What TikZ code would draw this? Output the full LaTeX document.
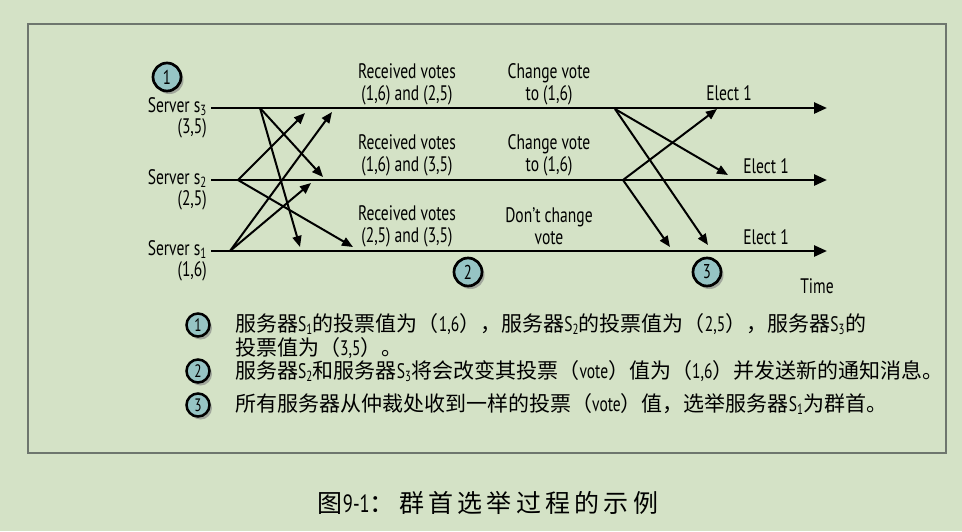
\documentclass[tikz,border=0pt]{standalone}
\usepackage{fontspec}
\setmainfont{PT Sans}[FakeStretch=0.74]
\newfontfamily\cjk{Noto Sans CJK SC}
\newfontfamily\capfont{Noto Sans CJK SC}[LetterSpace=17]
\usetikzlibrary{arrows.meta,shadows}
\definecolor{bgcol}{RGB}{212,226,198}
\definecolor{numfill}{RGB}{150,196,196}
\definecolor{framecol}{RGB}{110,118,110}
\newcommand\Sn[1]{{\rmfamily S\textsubscript{#1}}}
\newcommand\lat[1]{{\rmfamily #1}}

\tikzset{
  num/.style={circle,draw,line width=2.7pt,fill=numfill,minimum size=28pt,inner sep=0pt,
    font=\fontsize{20}{20}\selectfont,
    drop shadow={shadow xshift=2.5pt,shadow yshift=-3pt,opacity=.6}},
  smallnum/.style={num,minimum size=23pt,line width=2.5pt,font=\fontsize{18}{18}\selectfont},
  srvline/.style={line width=2.6pt,-{Triangle[length=13pt,width=11pt]}},
  msg/.style={line width=2pt,-{Triangle[length=11pt,width=9pt]}},
  lbl/.style={align=center,inner sep=0pt,font=\fontsize{21}{22}\selectfont},
  legend/.style={anchor=west,inner sep=0pt,text height=15pt,text depth=2pt,
    font=\cjk\fontsize{21}{21}\selectfont},
}

\begin{document}
\begin{tikzpicture}[x=1pt,y=-1pt]
    \fill[bgcol] (0,0) rectangle (962,531);
    \useasboundingbox (0,0) rectangle (962,531);
    \draw[framecol,line width=1.2pt] (28,24) rectangle (946,453);

    % server time lines
    \foreach \i/\yy/\v in {3/108/{3,5},2/180/{2,5},1/251/{1,6}} {
        \coordinate (s\i) at (211,\yy);
        \coordinate (e\i) at (827,\yy);
        \draw[srvline] (s\i) -- (e\i);
        \node[lbl,align=right,anchor=east,font=\fontsize{21}{21}\selectfont] (lab\i) at (207,\yy+10) {Server s\textsubscript{\i}\\(\v)};
    }

    % send and receive points
    \foreach \n/\p in {p3/{260,108},p2/{238,180},p1/{230,251},
                       t32/{323,177},t31/{300,247},t23/{305,113},t21/{353,247},t13/{332,112},t12/{311,183},
                       q3/{615,109},q2/{623,180},
                       u32/{728,175},u31/{708,245},u23/{717,109},u21/{670,247}} {
        \coordinate (\n) at (\p);
    }

    % first round of votes
    \draw[msg] (p3) -- (t32);
    \draw[msg] (p3) -- (t31);
    \draw[msg] (p2) -- (t23);
    \draw[msg] (p2) -- (t21);
    \draw[msg] (p1) -- (t13);
    \draw[msg] (p1) -- (t12);

    % second round
    \draw[msg] (q3) -- (u32);
    \draw[msg] (q3) -- (u31);
    \draw[msg] (q2) -- (u23);
    \draw[msg] (q2) -- (u21);

    \node[lbl] (rv3) at (407,84) {Received votes\\(1,6) and (2,5)};
    \node[lbl] (rv2) at (407,155) {Received votes\\(1,6) and (3,5)};
    \node[lbl] (rv1) at (407,226) {Received votes\\(2,5) and (3,5)};
    \node[lbl] (cv3) at (549,84) {Change vote\\to (1,6)};
    \node[lbl] (cv2) at (549,155) {Change vote\\to (1,6)};
    \node[lbl] (cv1) at (549,226) {Don’t change\\vote};
    \node[lbl] (el3) at (729,93) {Elect 1};
    \node[lbl] (el2) at (766,166) {Elect 1};
    \node[lbl] (el1) at (766,237) {Elect 1};
    \node[lbl] (time) at (817,286) {Time};

    \node[num] (n1) at (167,77) {1};
    \node[num] (n2) at (468,272) {2};
    \node[num] (n3) at (707,272) {3};

    % legend
    \node[smallnum] (m1) at (198,325) {1};
    \node[smallnum] (m2) at (198,371) {2};
    \node[smallnum] (m3) at (198,405) {3};
    \node[legend] (leg1) at (235,325) {服务器\Sn1的投票值为（\lat{1,6}），服务器\Sn2的投票值为（\lat{2,5}），服务器\Sn3的};
    \node[legend] (leg1b) at (235,349) {投票值为（\lat{3,5}）。};
    \node[legend] (leg2) at (235,372) {服务器\Sn2和服务器\Sn3将会改变其投票（\lat{vote}）值为（\lat{1,6}）并发送新的通知消息。};
    \node[legend] (leg3) at (235,405) {所有服务器从仲裁处收到一样的投票（\lat{vote}）值，选举服务器\Sn1为群首。};

    \node[inner sep=0pt,font=\capfont\fontsize{25}{25}\selectfont] (cap) at (488,503) {图\lat{9-1}：群首选举过程的示例};
\end{tikzpicture}
\end{document}
